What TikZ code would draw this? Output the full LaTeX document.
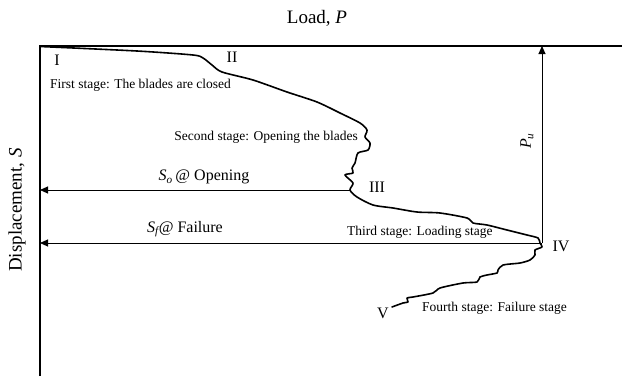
\documentclass[tikz,border=0pt]{standalone}
\usepackage{fontspec}
\setmainfont{Liberation Serif}
\usetikzlibrary{arrows.meta}
\begin{document}
\begin{tikzpicture}[x=1pt,y=-1pt,
  axisline/.style={line width=1.8pt},
  curveline/.style={line width=1.6pt, line join=round, line cap=round},
  dimarrow/.style={line width=0.9pt, -{Triangle[length=8pt,width=7pt]}},
  stagelbl/.style={font=\fontsize{13.5}{15}\selectfont, inner sep=0pt},
  numlbl/.style={font=\fontsize{16}{18}\selectfont, inner sep=0pt},
  axlbl/.style={font=\fontsize{19}{21}\selectfont, inner sep=0pt}]
\useasboundingbox (0,0) rectangle (622,376);
% axes
\coordinate (origin) at (40,46);
\coordinate (xend) at (622,46);
\coordinate (yend) at (40,376);
\draw[axisline] (yend) -- (origin) -- (xend);
% curve
\draw[curveline] plot[smooth, tension=0.45] coordinates {
(40,46.5) (137,51) (193,55) (203,58) (212,65) (222,72) (253,80) (287,92)
(317,102) (340,113) (360,123) (367,130) (365,137) (370,143) (368,150)
(358,153) (355,163) (352,168) (353,173) (345,175) (353,183) (350,190)
(357,197) (373,205) (393,208) (417,212) (440,213) (467,218) (473,223)
(487,225) (507,230) (527,235) (538,238) (540,243) (542,247) (535,250)
(535,255) (530,260) (520,263) (503,265) (498,270) (497,273) (487,275)
(480,277) (477,282) (463,283) (440,288) (433,293) (413,297) (407,298)
(408,302) (403,303) (392,307)};
% key points
\coordinate (pIII) at (350,190);
\coordinate (aIII) at (40,190);
\coordinate (pIV) at (542,243);
\coordinate (aIV) at (40,243);
\coordinate (top) at (542,46);
\draw[dimarrow] (pIII) -- (aIII);
\draw[dimarrow] (pIV) -- (aIV);
\draw[dimarrow] (pIV) -- (top);
% labels
\node[axlbl] (load) at (317,18) {Load, \textit{P}};
\node[axlbl, rotate=90] (disp) at (17,210) {Displacement, \textit{S}};
\node[numlbl] (nI) at (57,60) {I};
\node[numlbl] (nII) at (232,57) {II};
\node[numlbl] (nIII) at (377,187) {III};
\node[numlbl] (nIV) at (561,246) {IV};
\node[numlbl] (nV) at (383,313) {V};
\node[stagelbl, anchor=west] (s1) at (50,85) {First stage: The blades are closed};
\node[stagelbl, anchor=east] (s2) at (358,137) {Second stage: Opening the blades};
\node[stagelbl, anchor=west] (s3) at (347,232) {Third stage: Loading stage};
\node[stagelbl, anchor=west] (s4) at (422,308) {Fourth stage: Failure stage};
\node[numlbl] (so) at (204,177) {\textit{S\textsubscript{o}}\,@ Opening};
\node[numlbl] (sf) at (185,229) {\textit{S\textsubscript{f}}@ Failure};
\node[numlbl, rotate=90] (pu) at (527,141) {\textit{P\textsubscript{u}}};
\end{tikzpicture}
\end{document}
